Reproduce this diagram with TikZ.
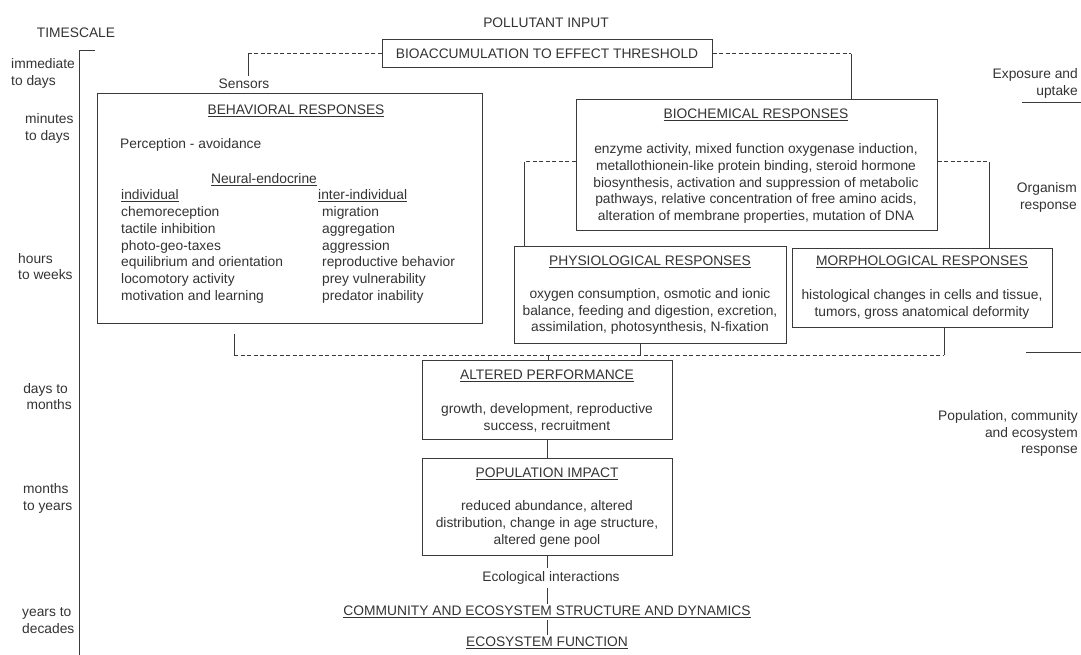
\documentclass[tikz,border=0pt]{standalone}
\usepackage{fontspec}
\setmainfont{Liberation Sans}
\definecolor{txt}{HTML}{333333}
\definecolor{ln}{HTML}{3A3A3A}
\begin{document}
\begin{tikzpicture}[x=1pt,y=-1pt,
  every node/.style={font=\fontsize{13.8}{16.8}\selectfont, text=txt, inner sep=0pt},
  boxst/.style={draw=ln, line width=1pt, inner sep=0pt},
  lnst/.style={draw=ln, line width=1pt},
  dsh/.style={draw=ln, line width=1pt, dash pattern=on 4pt off 2.5pt},
  lbl/.style={align=left, anchor=west},
  rlbl/.style={align=right, anchor=east},
  body/.style={align=center}]
\useasboundingbox (0,0) rectangle (1081,655);

% timescale
\node (ts) at (76,33) {TIMESCALE};
\coordinate (axtop) at (95,51);
\coordinate (axcorner) at (79,51);
\coordinate (axbot) at (79,655);
\draw[lnst] (axtop) -- (axcorner) -- (axbot);
\node[lbl] (t1) at (11,73.5) {immediate\\to days};
\node[lbl] (t2) at (25,128.5) {minutes\\to days};
\node[lbl] (t3) at (18,266.5) {hours\\to weeks};
\node[rlbl] (t4) at (72,396.5) {days to\hspace*{4pt}\\months};
\node[lbl] (t5) at (23,498.5) {months\\to years};
\node[lbl] (t6) at (22,620.5) {years to\\decades};

% right labels
\node[rlbl] (r1) at (1078,83.5) {Exposure and\\uptake};
\coordinate (r1a) at (1022,103); \coordinate (r1b) at (1081,103);
\draw[lnst] (r1a) -- (r1b);
\node[rlbl] (r2) at (1077,197.5) {Organism\\response};
\coordinate (r2a) at (1026,352); \coordinate (r2b) at (1081,352);
\draw[lnst] (r2a) -- (r2b);
\node[rlbl] (r3) at (1078,433.5) {Population, community\\and ecosystem\\response};

% top
\node (poll) at (546,23) {POLLUTANT INPUT};
\node[boxst, minimum width=330pt, minimum height=28pt] (bio) at (547,54) {BIOACCUMULATION TO EFFECT THRESHOLD};
\node[inner sep=3pt] (sens) at (244,84) {Sensors};
\coordinate (c1) at (248,54);
\draw[dsh] (bio.west) -- (c1);
\draw[lnst] (c1) -- (c1 |- sens.north);
\coordinate (c2) at (851,54);
\draw[dsh] (bio.east) -- (c2);

% behavioral
\node[boxst, minimum width=385pt, minimum height=229pt] (beh) at (289.5,208.5) {};
\node (behT) at (296,111) {\underline{BEHAVIORAL RESPONSES}};
\node[lbl] (perc) at (120,145) {Perception - avoidance};
\node (neur) at (264,180) {\underline{Neural-endocrine}};
\node[lbl] (ind) at (121,246.5) {\underline{individual}\\chemoreception\\tactile inhibition\\photo-geo-taxes\\equilibrium and orientation\\locomotory activity\\motivation and learning};
\node[lbl] (inter) at (318,246.5) {\underline{inter-individual}\\\hspace*{4pt}migration\\\hspace*{4pt}aggregation\\\hspace*{4pt}aggression\\\hspace*{4pt}reproductive behavior\\\hspace*{4pt}prey vulnerability\\\hspace*{4pt}predator inability};

% biochemical
\node[boxst, minimum width=361pt, minimum height=130pt] (bioch) at (756.5,165) {};
\draw[lnst] (c2) -- (c2 |- bioch.north);
\node (biochT) at (756,115) {\underline{BIOCHEMICAL RESPONSES}};
\node[body] (biochB) at (756,183.5) {enzyme activity, mixed function oxygenase induction,\\metallothionein-like protein binding, steroid hormone\\biosynthesis, activation and suppression of metabolic\\pathways, relative concentration of free amino acids,\\alteration of membrane properties, mutation of DNA};

% physiological
\node[boxst, minimum width=272pt, minimum height=97pt] (phys) at (650.5,294.5) {};
\node (physT) at (650,262) {\underline{PHYSIOLOGICAL RESPONSES}};
\node[body] (physB) at (650,311.5) {oxygen consumption, osmotic and ionic\\balance, feeding and digestion, excretion,\\assimilation, photosynthesis, N-fixation};

% morphological
\node[boxst, minimum width=260pt, minimum height=79pt] (morph) at (922,287.5) {};
\node (morphT) at (922,262) {\underline{MORPHOLOGICAL RESPONSES}};
\node[body] (morphB) at (922,304.5) {histological changes in cells and tissue,\\tumors, gross anatomical deformity};

% biochem side connectors
\coordinate (c3) at (524,162);
\coordinate (c4) at (989,162);
\draw[dsh] (bioch.west |- c3) -- (c3);
\draw[lnst] (c3) -- (c3 |- phys.north);
\draw[dsh] (bioch.east |- c4) -- (c4);
\draw[lnst] (c4) -- (c4 |- morph.north);

% altered performance
\node[boxst, minimum width=250pt, minimum height=79pt] (alt) at (547,400) {};
\node (altT) at (547,376) {\underline{ALTERED PERFORMANCE}};
\node[body] (altB) at (547,417.5) {growth, development, reproductive\\success, recruitment};

% bottom dashed collector
\coordinate (c7) at (234,334);
\coordinate (c5) at (234,355);
\coordinate (c6) at (944,355);
\coordinate (c8) at (640,355);
\coordinate (c9) at (548,355);
\draw[lnst] (c7) -- (c5);
\draw[dsh] (c5) -- (c6);
\draw[lnst] (c8 |- phys.south) -- (c8);
\draw[lnst] (c6 |- morph.south) -- (c6);
\draw[lnst] (c9) -- (c9 |- alt.north);

% population
\node[boxst, minimum width=250pt, minimum height=97pt] (pop) at (547.5,506.5) {};
\node (popT) at (547,474) {\underline{POPULATION IMPACT}};
\node[body] (popB) at (547,524) {reduced abundance, altered\\distribution, change in age structure,\\altered gene pool};
\draw[lnst] (alt.south) -- (alt.south |- pop.north);

% ecological
\node[inner sep=3pt] (eco) at (551,578) {Ecological interactions};
\node[inner sep=2pt] (comm) at (547,612) {\underline{COMMUNITY AND ECOSYSTEM STRUCTURE AND DYNAMICS}};
\node[inner sep=2pt] (func) at (547,643) {\underline{ECOSYSTEM FUNCTION}};
\coordinate (v1) at (547,555);
\draw[lnst] (v1) -- (v1 |- eco.north);
\draw[lnst] (v1 |- eco.south) -- (v1 |- comm.north);
\draw[lnst] (v1 |- comm.south) -- (v1 |- func.north);
\end{tikzpicture}
\end{document}
